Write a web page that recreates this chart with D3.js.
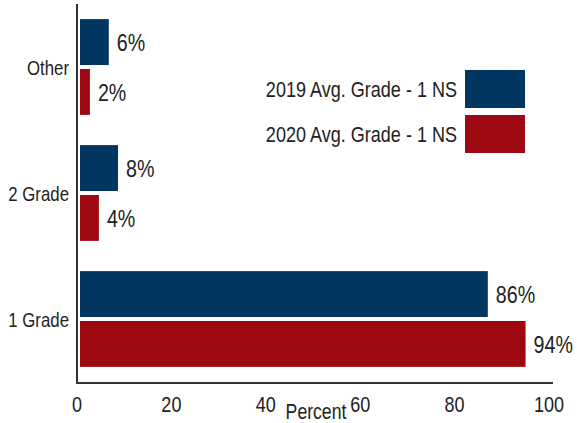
<!DOCTYPE html>
<meta charset="utf-8" />
<script src="https://d3js.org/d3.v7.min.js"></script>
<style>
  body { margin: 0; background: #fff; }
  text { font-family: "Liberation Sans", Arial, sans-serif; fill: #222; }
</style>
<div id="chart"></div>
<script>
  // data
  const categories = ["Other", "2 Grade", "1 Grade"];
  const seriesNames = ["2019 Avg. Grade - 1 NS", "2020 Avg. Grade - 1 NS"];
  const values2019 = [6.1, 8.05, 86.4];
  const values2020 = [2.1, 4.0, 94.4];
  const xTicks = [0, 20, 40, 60, 80, 100];
  const colors = ["#003660", "#9e0810"];

  const W = 577, H = 423;
  const narrow = 0.82; // fake a condensed face
  const svg = d3.select("#chart").append("svg")
    .attr("width", W).attr("height", H);

  function label(g, x, y, size, anchor, txt) {
    return g.append("text")
      .attr("transform", `translate(${x},${y}) scale(${narrow},1)`)
      .attr("text-anchor", anchor)
      .style("font-size", size + "px")
      .text(txt);
  }

  // scales
  const x = d3.scaleLinear().domain([0, 100]).range([79, 551]);
  const y = d3.scaleBand().domain(categories).range([4, 382]).paddingInner(0.24).paddingOuter(0.12);
  const sub = d3.scaleBand().domain([0, 1]).range([0, y.bandwidth()]).paddingInner(0.08);

  const series = [values2019, values2020];

  // bars + value labels
  series.forEach((vals, s) => {
    svg.append("g").selectAll("rect")
      .data(vals)
      .join("rect")
      .attr("x", x(0) + 1)
      .attr("y", (d, i) => y(categories[i]) + sub(s))
      .attr("width", d => x(d) - x(0))
      .attr("height", sub.bandwidth())
      .attr("fill", colors[s]);

    const g = svg.append("g");
    vals.forEach((d, i) => {
      label(g, x(d) + 9, y(categories[i]) + sub(s) + sub.bandwidth() / 2 + 8.6, 24, "start", Math.round(d) + "%");
    });
  });

  // y axis
  svg.append("line")
    .attr("x1", 77).attr("x2", 77).attr("y1", 4).attr("y2", 383)
    .attr("stroke", "#333").attr("stroke-width", 2);
  const yl = svg.append("g");
  categories.forEach(c => {
    label(yl, 69, y(c) + y.bandwidth() / 2 + 7.5, 20.5, "end", c);
  });

  // x axis
  svg.append("line")
    .attr("x1", 76).attr("x2", 553).attr("y1", 383).attr("y2", 383)
    .attr("stroke", "#333").attr("stroke-width", 2);
  const xl = svg.append("g");
  xTicks.forEach(t => label(xl, x(t) - 2, 412, 22, "middle", t));
  label(svg, 316, 419, 21.5, "middle", "Percent");

  // legend
  const legend = svg.append("g");
  seriesNames.forEach((name, i) => {
    legend.append("rect")
      .attr("x", 465).attr("y", 70 + i * 45)
      .attr("width", 60).attr("height", 38)
      .attr("fill", colors[i]);
    label(legend, 457, 97 + i * 45, 22, "end", name);
  });
</script>
